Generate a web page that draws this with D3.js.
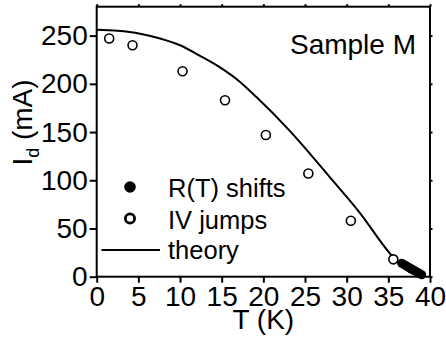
<!DOCTYPE html>
<html><head><meta charset="utf-8">
<script src="https://cdn.jsdelivr.net/npm/d3@7"></script>
<style>body{margin:0;background:#fff}svg{display:block}text{font-family:"Liberation Sans",Arial,sans-serif;fill:#000}</style>
</head><body><svg id="c" width="446" height="341"></svg>
<script>
// Open circles: IV jumps
const ivT = [1.5, 4.3, 10.3, 15.4, 20.3, 25.4, 30.5, 35.6];
const ivI = [247, 240, 213, 183, 147, 107, 58, 18];
// Filled circles: R(T) shifts
const rtT = [36.6, 36.8, 37.0, 37.2, 37.4, 37.6, 37.8, 38.0, 38.2, 38.4, 38.6, 38.8, 39.0];
const rtI = [14, 13, 12, 11, 10, 9, 8, 7, 6, 5, 4, 3, 2];
// Theory curve
const thT = [0, 2.5, 5.2, 7.6, 10, 12.4, 14.8, 17.2, 19.2, 23.2, 28.0, 31.6, 35.2, 36.5, 37.5, 38.5, 39.3];
const thI = [256, 255, 252, 247, 240, 229, 217, 202, 186, 151, 103, 66, 24, 12, 5, 1.5, 0];
const xTicks = [0, 5, 10, 15, 20, 25, 30, 35, 40];
const yTicks = [0, 50, 100, 150, 200, 250];
const legendLabels = ["R(T) shifts", "IV jumps", "theory"];

(function () {
const svg = d3.select("#c");
const L = 96.7, R = 430, T = 6.7, B = 276.7;
const x = d3.scaleLinear().domain([0, 40]).range([L, R]);
const y = d3.scaleLinear().domain([0, 280]).range([B, T]);
const fs = 28, lfs = 25.5;

const gB = svg.append("g").attr("transform", `translate(0,${B})`)
  .call(d3.axisBottom(x).tickValues(xTicks).tickSize(6).tickPadding(3).tickFormat(d3.format("d")));
const gL = svg.append("g").attr("transform", `translate(${L},0)`)
  .call(d3.axisLeft(y).tickValues(yTicks).tickSize(7).tickPadding(2).tickFormat(d3.format("d")));
const gT = svg.append("g").attr("transform", `translate(0,${T})`)
  .call(d3.axisTop(x).tickValues(xTicks).tickSize(2.5).tickFormat(""));
const gR = svg.append("g").attr("transform", `translate(${R},0)`)
  .call(d3.axisRight(y).tickValues(yTicks).tickSize(2.5).tickFormat(""));
[gB, gL, gT, gR].forEach(g => {
  g.select(".domain").attr("stroke", "none");
  g.selectAll(".tick line").attr("stroke", "#000").attr("stroke-width", 2);
  g.selectAll(".tick text").attr("font-size", fs).attr("font-family", "Liberation Sans, Arial, sans-serif").attr("fill", "#000");
});
svg.append("rect").attr("x", L).attr("y", T).attr("width", R - L).attr("height", B - T)
  .attr("fill", "none").attr("stroke", "#000").attr("stroke-width", 2);

const th = thT.map((t, i) => [t, thI[i]]);
svg.append("path").datum(th)
  .attr("d", d3.line().x(d => x(d[0])).y(d => y(d[1])).curve(d3.curveMonotoneX))
  .attr("fill", "none").attr("stroke", "#000").attr("stroke-width", 2);

svg.append("g").selectAll("circle").data(ivT.map((t, i) => [t, ivI[i]])).join("circle")
  .attr("cx", d => x(d[0])).attr("cy", d => y(d[1])).attr("r", 4.5)
  .attr("fill", "#fff").attr("stroke", "#000").attr("stroke-width", 1.6);

svg.append("g").selectAll("circle").data(rtT.map((t, i) => [t, rtI[i]])).join("circle")
  .attr("cx", d => x(d[0])).attr("cy", d => y(d[1])).attr("r", 4.5)
  .attr("fill", "#000");

const lg = svg.append("g");
lg.append("circle").attr("cx", 130).attr("cy", 187).attr("r", 5.8).attr("fill", "#000");
lg.append("circle").attr("cx", 130).attr("cy", 218.5).attr("r", 4.6).attr("fill", "#fff").attr("stroke", "#000").attr("stroke-width", 2.8);
lg.append("line").attr("x1", 101.5).attr("x2", 160).attr("y1", 250).attr("y2", 250).attr("stroke", "#000").attr("stroke-width", 2);
const ly = [196.5, 229, 259];
legendLabels.forEach((s, i) => lg.append("text").attr("x", 168).attr("y", ly[i]).attr("font-size", lfs).text(s));

svg.append("text").attr("x", 416).attr("y", 53.5).attr("text-anchor", "end").attr("font-size", fs).text("Sample M");

svg.append("text").attr("x", (L + R) / 2).attr("y", 329).attr("text-anchor", "middle").attr("font-size", fs).text("T (K)");
const yt = svg.append("text").attr("transform", `translate(31.5,122.5) rotate(-90)`)
  .attr("text-anchor", "middle").attr("font-size", fs);
yt.append("tspan").text("I");
yt.append("tspan").attr("font-size", 18).attr("dy", 7).text("d");
yt.append("tspan").attr("dy", -7).text(" (mA)");
})();
</script></body></html>
